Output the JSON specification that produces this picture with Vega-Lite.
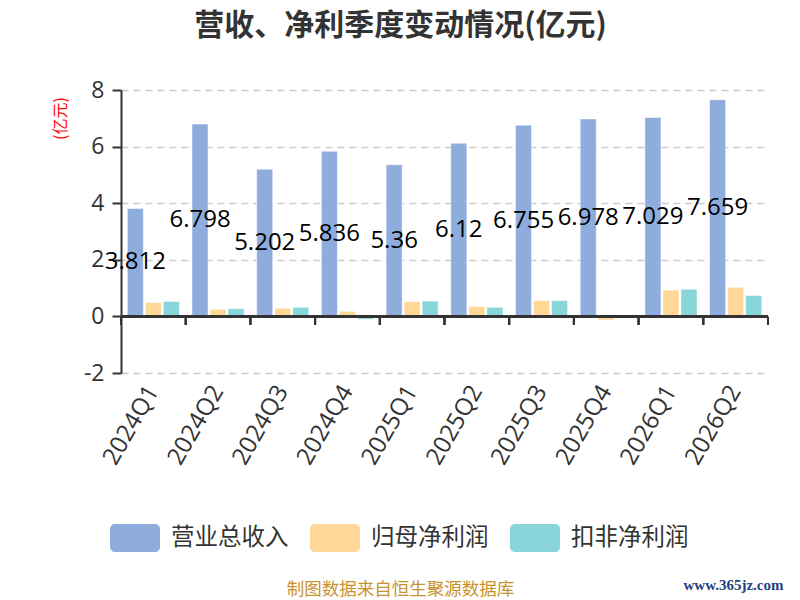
{
  "$schema": "https://vega.github.io/schema/vega-lite/v6.json",
  "autosize": "none",
  "width": 647,
  "height": 283,
  "padding": {"left": 121, "top": 90, "right": 32, "bottom": 227},
  "background": "#ffffff",
  "config": {
    "font": "Open Sans, Noto Sans CJK SC, sans-serif",
    "view": {"stroke": null}
  },
  "title": {
    "text": "营收、净利季度变动情况(亿元)",
    "anchor": "middle",
    "dx": -44,
    "offset": 38,
    "fontSize": 30,
    "fontWeight": "bold",
    "color": "#333333",
    "font": "Noto Sans CJK SC, sans-serif"
  },
  "data": {
    "values": [
      {"quarter": "2024Q1", "type": "营业总收入", "value": 3.812},
      {"quarter": "2024Q1", "type": "归母净利润", "value": 0.49},
      {"quarter": "2024Q1", "type": "扣非净利润", "value": 0.53},
      {"quarter": "2024Q2", "type": "营业总收入", "value": 6.798},
      {"quarter": "2024Q2", "type": "归母净利润", "value": 0.25},
      {"quarter": "2024Q2", "type": "扣非净利润", "value": 0.27},
      {"quarter": "2024Q3", "type": "营业总收入", "value": 5.202},
      {"quarter": "2024Q3", "type": "归母净利润", "value": 0.29},
      {"quarter": "2024Q3", "type": "扣非净利润", "value": 0.32},
      {"quarter": "2024Q4", "type": "营业总收入", "value": 5.836},
      {"quarter": "2024Q4", "type": "归母净利润", "value": 0.18},
      {"quarter": "2024Q4", "type": "扣非净利润", "value": -0.1},
      {"quarter": "2025Q1", "type": "营业总收入", "value": 5.36},
      {"quarter": "2025Q1", "type": "归母净利润", "value": 0.52},
      {"quarter": "2025Q1", "type": "扣非净利润", "value": 0.54},
      {"quarter": "2025Q2", "type": "营业总收入", "value": 6.12},
      {"quarter": "2025Q2", "type": "归母净利润", "value": 0.35},
      {"quarter": "2025Q2", "type": "扣非净利润", "value": 0.32},
      {"quarter": "2025Q3", "type": "营业总收入", "value": 6.755},
      {"quarter": "2025Q3", "type": "归母净利润", "value": 0.56},
      {"quarter": "2025Q3", "type": "扣非净利润", "value": 0.56},
      {"quarter": "2025Q4", "type": "营业总收入", "value": 6.978},
      {"quarter": "2025Q4", "type": "归母净利润", "value": -0.13},
      {"quarter": "2025Q4", "type": "扣非净利润", "value": -0.02},
      {"quarter": "2026Q1", "type": "营业总收入", "value": 7.029},
      {"quarter": "2026Q1", "type": "归母净利润", "value": 0.93},
      {"quarter": "2026Q1", "type": "扣非净利润", "value": 0.96},
      {"quarter": "2026Q2", "type": "营业总收入", "value": 7.659},
      {"quarter": "2026Q2", "type": "归母净利润", "value": 1.03},
      {"quarter": "2026Q2", "type": "扣非净利润", "value": 0.74}
    ]
  },
  "resolve": {"scale": {"y": "independent"}, "axis": {"y": "independent"}},
  "layer": [
    {
      "layer": [
        {
          "mark": {"type": "bar", "stroke": "#ffffff", "strokeWidth": 1, "strokeOpacity": 0.5},
          "encoding": {
            "x": {
              "field": "quarter", "type": "nominal", "sort": null,
              "scale": {"paddingInner": 0, "paddingOuter": 0},
              "axis": {
                "title": "制图数据来自恒生聚源数据库",
                "titleColor": "#C8922E",
                "titleFontSize": 17.5,
                "titleFontWeight": "normal",
                "titleFont": "Noto Sans CJK SC, sans-serif",
                "titleAnchor": null,
                "titleX": 279,
                "titleY": 216,
                "titleAlign": "center",
                "titleBaseline": "middle",
                "domain": false,
                "ticks": false,
                "grid": false,
                "labelAngle": -60,
                "labelAlign": "right",
                "labelBaseline": "middle",
                "labelPadding": 14,
                "labelFontSize": 24,
                "labelColor": "#333333"
              }
            },
            "xOffset": {
              "field": "type", "type": "nominal",
              "scale": {"domain": ["营业总收入", "归母净利润", "扣非净利润"], "paddingInner": 0.11, "paddingOuter": 0.35}
            },
            "y": {
              "field": "value", "type": "quantitative",
              "scale": {"domain": [-2, 8], "nice": false, "zero": false},
              "axis": {
                "values": [-2, 0, 2, 4, 6, 8],
                "labelExpr": "'' + datum.value",
                "title": "(亿元)",
                "titleColor": "#ff0000",
                "titleFontSize": 16,
                "titleFontWeight": "normal",
                "titleFont": "Noto Sans CJK SC, sans-serif",
                "titleAnchor": null,
                "titleAngle": -90,
                "titleX": -61,
                "titleY": 28,
                "titleAlign": "center",
                "titleBaseline": "middle",
                "domainColor": "#333333",
                "domainWidth": 2,
                "tickColor": "#333333",
                "tickWidth": 2,
                "tickSize": 9,
                "labelPadding": 8,
                "labelFontSize": 23,
                "labelColor": "#333333",
                "grid": true,
                "gridColor": "#cccccc",
                "gridWidth": 1.5,
                "gridDash": [7, 5]
              }
            },
            "color": {
              "field": "type", "type": "nominal",
              "scale": {"domain": ["营业总收入", "归母净利润", "扣非净利润"], "range": ["#8EADDC", "#FFD898", "#88D6D9"]},
              "legend": {
                "title": null,
                "orient": "none",
                "direction": "horizontal",
                "legendX": -11,
                "legendY": 423,
                "padding": 0,
                "symbolType": "M-0.8,-0.56H0.8A0.2,0.2 0 0 1 1,-0.36V0.36A0.2,0.2 0 0 1 0.8,0.56H-0.8A0.2,0.2 0 0 1 -1,0.36V-0.36A0.2,0.2 0 0 1 -0.8,-0.56Z",
                "symbolSize": 2500,
                "symbolStrokeWidth": 0,
                "symbolOpacity": 1,
                "labelFontSize": 23.5,
                "labelColor": "#333333",
                "labelFont": "Noto Sans CJK SC, sans-serif",
                "labelOffset": 11,
                "columnPadding": 21
              }
            }
          }
        },
        {
          "mark": {"type": "rule", "color": "#333333", "strokeWidth": 2},
          "encoding": {"y": {"datum": 0}}
        },
        {
          "mark": {"type": "rule", "color": "#333333", "strokeWidth": 2},
          "encoding": {
            "x": {"field": "quarter", "type": "nominal", "sort": null, "bandPosition": 0},
            "y": {"datum": 0},
            "y2": {"datum": -0.3}
          }
        },
        {
          "transform": [{"filter": "datum.quarter == '2026Q2' && datum.type == '营业总收入'"}],
          "mark": {"type": "rule", "color": "#333333", "strokeWidth": 2},
          "encoding": {
            "x": {"field": "quarter", "type": "nominal", "sort": null, "bandPosition": 1},
            "y": {"datum": 0},
            "y2": {"datum": -0.3}
          }
        }
      ]
    },
    {
      "transform": [{"filter": "datum.type == '营业总收入'"}],
      "mark": {"type": "text", "fontSize": 24, "color": "#000000", "align": "center", "baseline": "middle"},
      "encoding": {
        "x": {"field": "quarter", "type": "nominal", "sort": null},
        "xOffset": {"field": "type", "type": "nominal"},
        "y": {
          "field": "value", "type": "quantitative",
          "scale": {"domain": [-4, 16], "nice": false, "zero": false},
          "axis": {
            "orient": "right",
            "title": "www.365jz.com",
            "labels": false, "ticks": false, "domain": false, "grid": false,
            "titleAngle": 0,
            "titleAnchor": null,
            "titleX": -35,
            "titleY": 494,
            "titleAlign": "center",
            "titleBaseline": "middle",
            "titleFont": "Liberation Serif, serif",
            "titleFontSize": 15,
            "titleFontWeight": "bold",
            "titleColor": "#1F3F7F"
          }
        },
        "text": {"field": "value", "type": "nominal"}
      }
    }
  ]
}
